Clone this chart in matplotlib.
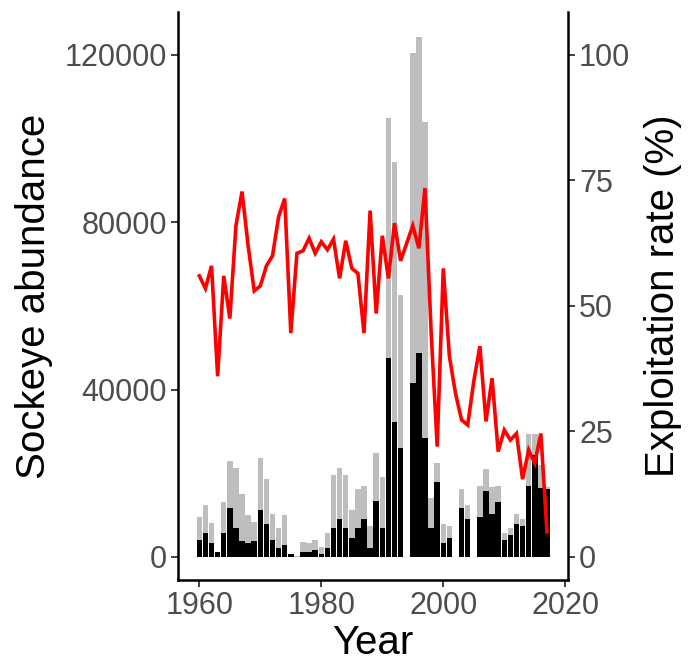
import matplotlib
matplotlib.use("Agg")
import matplotlib.pyplot as plt
import numpy as np

plt.rcParams['font.family'] = ['Liberation Sans', 'DejaVu Sans']

years = list(range(1960, 2018))

total_run = [9560, 12430, 8210, 1300, 13230, 22870, 21200, 14980, 9960, 8290,
             23750, 18730, 10360, 7010, 9960, 700, 300, 3670, 3270, 4060,
             2470, 5740, 19520, 21200, 19520, 11160, 16180, 16970, 7410, 24940,
             19120, 104870, 94500, 62630, 0, 120400, 124230, 104060, 14100, 22550,
             7810, 7410, 0, 16180, 12400, 0, 16970, 21150, 16730, 16970,
             5620, 7010, 10360, 9100, 29480, 29480, 22000, 16800]

escapement = [4140, 5820, 3270, 1280, 5820, 11630, 7010, 3750, 3270, 3750,
              11240, 7810, 4140, 2070, 2870, 600, 100, 1200, 1200, 1670,
              800, 2070, 7010, 9160, 7010, 4540, 7010, 9080, 2070, 13300,
              7010, 47650, 32270, 26140, 0, 41670, 48840, 28500, 7010, 17850,
              3350, 4620, 0, 11630, 9160, 0, 9480, 15780, 10360, 13230,
              4140, 5260, 7810, 7490, 16970, 24340, 16570, 16170]

exploitation = [56, 53.5, 58, 36, 56, 47.5, 66, 72.8, 62, 53,
                54, 58, 60, 67.8, 71.4, 44.6, 60.5, 61, 63.5, 60.5,
                62.8, 61.2, 63.3, 55.5, 63, 57.5, 56.5, 44.6, 69, 48.5,
                64, 55.5, 66.5, 59, 62.5, 66, 61.5, 73.5, 45, 22,
                57.5, 40, 32.6, 27.3, 26.3, 35, 42, 27, 35.6, 21,
                25.3, 23.3, 24.6, 15.5, 21.3, 18.7, 24.6, 5]

left_ticks = [0, 40000, 80000, 120000]
right_ticks = [0, 25, 50, 75, 100]
x_ticks = [1960, 1980, 2000, 2020]

scale = 1200.0  # 100 % <-> 120000 fish

fig = plt.figure(figsize=(6.95, 6.66), dpi=100)
ax = fig.add_axes([178/695, 1 - 580/666, (568-178)/695, (580-12)/666])

ax.bar(years, total_run, width=0.9, color='#BEBEBE', linewidth=0, zorder=2)
ax.bar(years, escapement, width=0.9, color='black', linewidth=0, zorder=3)

ylo, yhi = -5498, 130277
ax.set_ylim(ylo, yhi)
ax.set_xlim(1956.5, 2020.45)

ax2 = ax.twinx()
ax2.plot(years, exploitation, color='#FF0000', lw=2.6, solid_joinstyle='miter', zorder=5)
ax2.set_ylim(ylo/scale, yhi/scale)

tick_color = '#4D4D4D'
ax.set_xticks(x_ticks)
ax.set_yticks(left_ticks)
ax.set_yticklabels([str(v) for v in left_ticks])
ax2.set_yticks(right_ticks)

for a in (ax, ax2):
    a.tick_params(axis='both', which='major', direction='out', length=5, width=1.3,
                  color='#333333', labelcolor=tick_color, labelsize=22, pad=3)
    a.spines['top'].set_visible(False)
    for s in ('left', 'right', 'bottom'):
        a.spines[s].set_linewidth(1.8)
        a.spines[s].set_color('black')

ax.spines['right'].set_visible(False)
ax2.spines['left'].set_visible(False)
ax2.spines['bottom'].set_visible(False)

ax.set_xlabel('Year', fontsize=29, color='black', labelpad=2)
ax.set_ylabel('Sockeye abundance', fontsize=29, color='black', labelpad=8)
ax2.set_ylabel('Exploitation rate (%)', fontsize=29, color='black', labelpad=10)

fig.savefig('out.png', dpi=100)
